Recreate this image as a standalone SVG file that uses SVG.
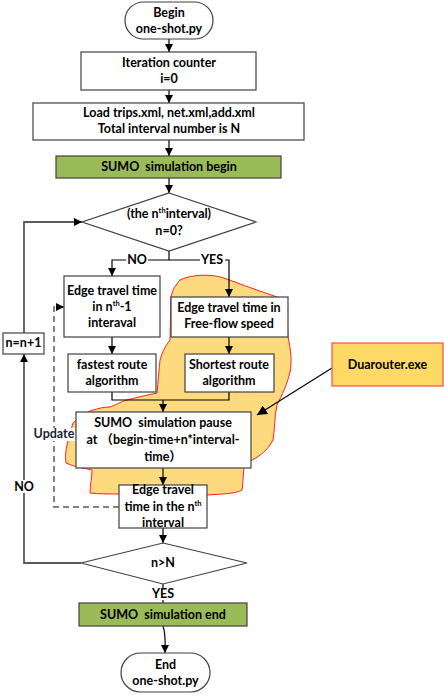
<svg xmlns="http://www.w3.org/2000/svg" width="444" height="696" viewBox="0 0 444 696">
<defs>
<style>
.box{fill:#fff;stroke:#404040;stroke-width:1.2}
.green{fill:#9BBB59;stroke:#404040;stroke-width:1.2}
.t{font-family:Lato,"Liberation Sans","Noto Sans CJK SC",sans-serif;font-weight:bold;font-size:12.5px;fill:#000;text-anchor:middle}
.s{font-size:7.5px}
.ln{fill:none;stroke:#000;stroke-width:1.2}
.gl{fill:none;stroke:#595959;stroke-width:1.8}
.dash{fill:none;stroke:#595959;stroke-width:1.5;stroke-dasharray:6,4}
</style>
<marker id="ah" viewBox="0 0 10 10" refX="10" refY="5" markerWidth="8" markerHeight="8" markerUnits="userSpaceOnUse" orient="auto">
<path d="M0,0 L10,5 L0,10 z" fill="#000"/>
</marker>
<marker id="ahs" viewBox="0 0 10 10" refX="10" refY="5" markerWidth="10" markerHeight="10" markerUnits="userSpaceOnUse" orient="auto">
<path d="M0,0 L10,5 L0,10 z" fill="#000"/>
</marker>
</defs>

<g id="blob">
<path d="M180,280 C192,274 212,274 224,278 C240,284 262,292 286,300 L288,337 C291,350 292,362 290,372 C287,385 282,395 277,405 C274,418 275,430 273,440 C268,450 260,456 252,460 L244,468 C243,476 243,484 242,490 C236,494 220,494 207,495 L119,494 C108,494 98,494 90,493 C90,485 92,478 92,470 C84,468 74,467 66,463 C65,455 66,450 67,445 C69,437 71,430 73,423 C80,417 86,412 93,410 C100,408 104,407 110,407 C118,404 122,401 127,400 C138,397 148,395 157,393 C158,382 159,370 160,360 C162,353 165,346 170,340 L171,297 C172,292 174,287 180,280 Z" fill="#FDDA7E" stroke="#FF2020" stroke-width="1"/>
</g>

<g id="connectors">
<path class="ln" d="M169,39 V52" marker-end="url(#ah)"/>
<path class="ln" d="M169,90 V103" marker-end="url(#ah)"/>
<path class="ln" d="M169,140 V156" marker-end="url(#ah)"/>
<path class="ln" d="M169,178 V193" marker-end="url(#ah)"/>
<path class="ln" d="M169,251 V260 H112 V276" marker-end="url(#ah)"/>
<path class="ln" d="M169,260 H229 V297" marker-end="url(#ah)"/>
<path class="ln" d="M112,337 V354" marker-end="url(#ah)"/>
<path class="ln" d="M229,337 V354" marker-end="url(#ah)"/>
<path class="ln" d="M112,392 V400 H229 V392"/>
<path class="ln" d="M163,400 V412" marker-end="url(#ah)"/>
<path class="ln" d="M163,468 V485" marker-end="url(#ah)"/>
<path class="ln" d="M163,528 V543" marker-end="url(#ah)"/>
<path class="gl" d="M81,563 H24 V354" marker-end="url(#ah)"/>
<path class="gl" d="M24,333 V222 H82" marker-end="url(#ah)"/>
<path class="ln" d="M163,584 V603"/>
<path class="ln" d="M163,626 C166,634 165,642 165,653" marker-end="url(#ah)"/>
<path class="dash" d="M119,507 H54 V307 H64" marker-end="url(#ah)"/>
<path class="ln" d="M332,368 L257,415" stroke-width="0.9" marker-end="url(#ahs)"/>
</g>

<g id="begin">
<rect x="125" y="2" width="88" height="37" rx="18.5" class="box"/>
<text class="t" x="169" y="17">Begin</text>
<text class="t" x="169" y="33">one-shot.py</text>
</g>

<g id="iter">
<rect x="81" y="52" width="175" height="38" class="box"/>
<text class="t" x="169" y="67">Iteration counter</text>
<text class="t" x="169" y="83">i=0</text>
</g>

<g id="load">
<rect x="33" y="103" width="271" height="37" class="box"/>
<text class="t" x="169" y="117">Load trips.xml, net.xml,add.xml</text>
<text class="t" x="169" y="133">Total interval number is N</text>
</g>

<g id="simbegin">
<rect x="56" y="156" width="225" height="22" class="green"/>
<text class="t" x="169" y="171" xml:space="preserve">SUMO  simulation begin</text>
</g>

<g id="dec1">
<polygon points="169,193 256,222 169,251 82,222" class="box"/>
<text class="t" x="169" y="218">(the n<tspan class="s" dy="-5">th</tspan><tspan dy="5">interval)</tspan></text>
<text class="t" x="169" y="235">n=0?</text>
</g>

<g id="labels">
<rect x="126" y="254" width="22" height="12" fill="#fff"/>
<text class="t" x="137" y="264">NO</text>
<rect x="200" y="254" width="25" height="12" fill="#fff"/>
<text class="t" x="212" y="264">YES</text>
<rect x="13" y="480" width="23" height="13" fill="#fff"/>
<text class="t" x="24" y="491">NO</text>
<rect x="151" y="588" width="25" height="12" fill="#fff"/>
<text class="t" x="163" y="598">YES</text>
<rect x="34" y="428" width="41" height="13" fill="#fff"/>
<text class="t" x="54" y="438" style="fill:#1a1f3a">Update</text>
</g>

<g id="prev">
<rect x="64" y="276" width="96" height="61" class="box"/>
<text class="t" x="112" y="295">Edge travel time</text>
<text class="t" x="112" y="311">in n<tspan class="s" dy="-5">th</tspan><tspan dy="5">-1</tspan></text>
<text class="t" x="112" y="327">interaval</text>
</g>

<g id="free">
<rect x="171" y="297" width="117" height="40" class="box"/>
<text class="t" x="229" y="312">Edge travel time in</text>
<text class="t" x="229" y="328">Free-flow speed</text>
</g>

<g id="incr">
<rect x="3" y="333" width="41" height="21" class="box"/>
<text class="t" x="23.5" y="347">n=n+1</text>
</g>

<g id="fastest">
<rect x="68" y="354" width="88" height="38" class="box"/>
<text class="t" x="112" y="369">fastest route</text>
<text class="t" x="112" y="385">algorithm</text>
</g>

<g id="shortest">
<rect x="185" y="354" width="89" height="38" class="box"/>
<text class="t" x="229" y="369">Shortest route</text>
<text class="t" x="229" y="385">algorithm</text>
</g>

<g id="duarouter">
<rect x="332" y="343" width="111" height="43" fill="#FFD966" stroke="#FF4B4B" stroke-width="1.2"/>
<text class="t" x="387.5" y="369">Duarouter.exe</text>
</g>

<g id="pause">
<rect x="76" y="412" width="175" height="56" class="box"/>
<text class="t" x="163" y="427" xml:space="preserve">SUMO  simulation pause</text>
<text class="t" x="163" y="444">at （begin-time+n*interval-</text>
<text class="t" x="163" y="461">time）</text>
</g>

<g id="nth">
<rect x="119" y="485" width="88" height="43" class="box"/>
<text class="t" x="163" y="494">Edge travel</text>
<text class="t" x="163" y="511">time in the n<tspan class="s" dy="-5">th</tspan></text>
<text class="t" x="163" y="527">interval</text>
</g>

<g id="dec2">
<polygon points="163,543 247,563 163,584 81,563" class="box"/>
<text class="t" x="163" y="567">n&gt;N</text>
</g>

<g id="simend">
<rect x="79" y="603" width="168" height="23" class="green"/>
<text class="t" x="163" y="619" xml:space="preserve">SUMO  simulation end</text>
</g>

<g id="end">
<rect x="121" y="653" width="89" height="39" rx="19.5" class="box"/>
<text class="t" x="165.5" y="669">End</text>
<text class="t" x="165.5" y="685">one-shot.py</text>
</g>
</svg>
